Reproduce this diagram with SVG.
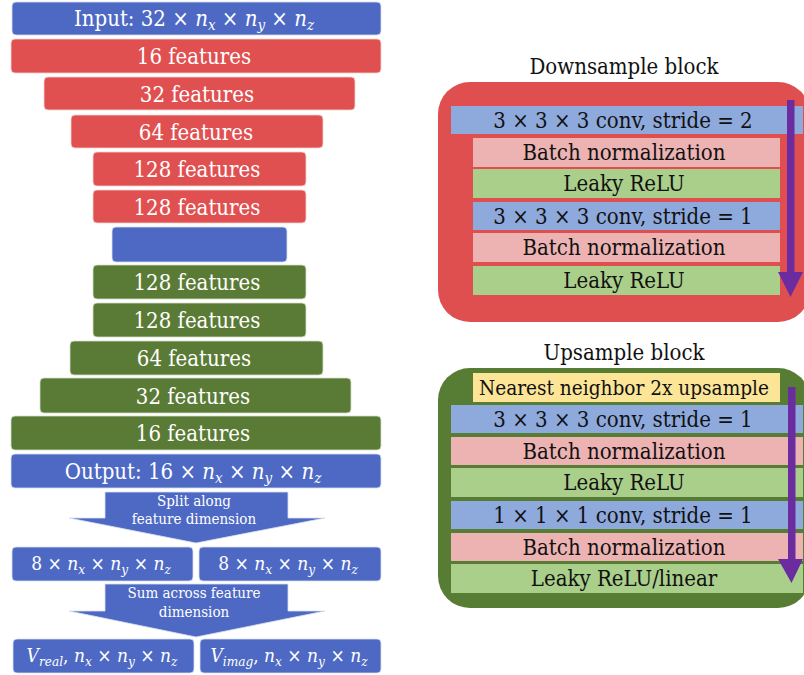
<svg xmlns="http://www.w3.org/2000/svg" width="804" height="675" viewBox="0 0 804 675">
  <style>
    .t { font-family: "DejaVu Serif Condensed", "DejaVu Serif", "Liberation Serif", serif; font-stretch: condensed; text-anchor: middle; }
    .w { fill: #ffffff; font-size: 22px; }
    .m { fill: #ffffff; font-size: 19px; }
    .k { fill: #111111; font-size: 22px; }
    .k.narrow { font-size: 20.6px; }
    .s { fill: #ffffff; font-size: 15px; }
    .i { font-style: italic; }
    .sub { font-style: italic; font-size: 15px; }
    .m .sub { font-size: 13.5px; }
    .blue { fill: #4d69c4; stroke: #d9e0f3; stroke-width: 0.8; }
    .red { fill: #e05050; stroke: #f7d3d3; stroke-width: 0.8; }
    .green { fill: #5a7b35; stroke: #d6e0cc; stroke-width: 0.8; }
    .rc { fill: #8ea9dc; }
    .rp { fill: #edb3b3; }
    .rg { fill: #aacf8b; }
    .ry { fill: #fde597; }
    .purple { fill: #6a2c9e; }
  </style>

  <!-- encoder / decoder stack -->
  <g id="input">
    <rect class="blue" x="12" y="2" width="369" height="33" rx="4"/>
    <text class="t w" x="194" y="26">Input: 32 × <tspan class="i">n</tspan><tspan class="sub" dy="4">x</tspan><tspan dy="-4"> × </tspan><tspan class="i">n</tspan><tspan class="sub" dy="4">y</tspan><tspan dy="-4"> × </tspan><tspan class="i">n</tspan><tspan class="sub" dy="4">z</tspan></text>
  </g>
  <g id="down16">
    <rect class="red" x="11" y="39" width="370" height="34" rx="4"/>
    <text class="t w" x="194" y="64">16 features</text>
  </g>
  <g id="down32">
    <rect class="red" x="44" y="77" width="311" height="33" rx="4"/>
    <text class="t w" x="197" y="101.5">32 features</text>
  </g>
  <g id="down64">
    <rect class="red" x="71" y="115" width="252" height="33" rx="4"/>
    <text class="t w" x="196" y="139.5">64 features</text>
  </g>
  <g id="down128a">
    <rect class="red" x="93" y="152" width="213" height="34" rx="4"/>
    <text class="t w" x="197" y="177">128 features</text>
  </g>
  <g id="down128b">
    <rect class="red" x="93" y="190" width="213" height="33" rx="4"/>
    <text class="t w" x="197" y="214.5">128 features</text>
  </g>
  <g id="bottleneck">
    <rect class="blue" x="112" y="227" width="175" height="35" rx="4"/>
  </g>
  <g id="up128a">
    <rect class="green" x="93" y="265" width="213" height="34" rx="4"/>
    <text class="t w" x="197" y="290">128 features</text>
  </g>
  <g id="up128b">
    <rect class="green" x="93" y="303" width="213" height="34" rx="4"/>
    <text class="t w" x="197" y="328">128 features</text>
  </g>
  <g id="up64">
    <rect class="green" x="70" y="341" width="253" height="34" rx="4"/>
    <text class="t w" x="194" y="366">64 features</text>
  </g>
  <g id="up32">
    <rect class="green" x="40" y="378" width="311" height="35" rx="4"/>
    <text class="t w" x="193" y="403.5">32 features</text>
  </g>
  <g id="up16">
    <rect class="green" x="11" y="416" width="370" height="34" rx="4"/>
    <text class="t w" x="193" y="441">16 features</text>
  </g>
  <g id="output">
    <rect class="blue" x="11" y="454" width="370" height="34" rx="4"/>
    <text class="t w" x="193" y="478.5">Output: 16 × <tspan class="i">n</tspan><tspan class="sub" dy="4">x</tspan><tspan dy="-4"> × </tspan><tspan class="i">n</tspan><tspan class="sub" dy="4">y</tspan><tspan dy="-4"> × </tspan><tspan class="i">n</tspan><tspan class="sub" dy="4">z</tspan></text>
  </g>

  <!-- block arrows between output stages -->
  <g id="connectors">
    <polygon class="blue" points="105,492 288,492 288,518 325,518 196,543 69,518 105,518"/>
    <text class="t s" x="194" y="506">Split along</text>
    <text class="t s" x="194" y="524">feature dimension</text>
    <polygon class="blue" points="105,584 288,584 288,611 325,611 196,637 69,611 105,611"/>
    <text class="t s" x="194" y="598">Sum across feature</text>
    <text class="t s" x="194" y="617">dimension</text>
  </g>

  <g id="split-left">
    <rect class="blue" x="12" y="547" width="181" height="34" rx="4"/>
    <text class="t m" x="101" y="570">8 × <tspan class="i">n</tspan><tspan class="sub" dy="4">x</tspan><tspan dy="-4"> × </tspan><tspan class="i">n</tspan><tspan class="sub" dy="4">y</tspan><tspan dy="-4"> × </tspan><tspan class="i">n</tspan><tspan class="sub" dy="4">z</tspan></text>
  </g>
  <g id="split-right">
    <rect class="blue" x="199" y="547" width="182" height="34" rx="4"/>
    <text class="t m" x="288" y="570">8 × <tspan class="i">n</tspan><tspan class="sub" dy="4">x</tspan><tspan dy="-4"> × </tspan><tspan class="i">n</tspan><tspan class="sub" dy="4">y</tspan><tspan dy="-4"> × </tspan><tspan class="i">n</tspan><tspan class="sub" dy="4">z</tspan></text>
  </g>
  <g id="v-real">
    <rect class="blue" x="13" y="639" width="181" height="34" rx="4"/>
    <text class="t m" x="102" y="662"><tspan class="i">V</tspan><tspan class="sub" dy="4">real</tspan><tspan dy="-4">, </tspan><tspan class="i">n</tspan><tspan class="sub" dy="4">x</tspan><tspan dy="-4"> × </tspan><tspan class="i">n</tspan><tspan class="sub" dy="4">y</tspan><tspan dy="-4"> × </tspan><tspan class="i">n</tspan><tspan class="sub" dy="4">z</tspan></text>
  </g>
  <g id="v-imag">
    <rect class="blue" x="200" y="639" width="181" height="34" rx="4"/>
    <text class="t m" x="289" y="662"><tspan class="i">V</tspan><tspan class="sub" dy="4">imag</tspan><tspan dy="-4">, </tspan><tspan class="i">n</tspan><tspan class="sub" dy="4">x</tspan><tspan dy="-4"> × </tspan><tspan class="i">n</tspan><tspan class="sub" dy="4">y</tspan><tspan dy="-4"> × </tspan><tspan class="i">n</tspan><tspan class="sub" dy="4">z</tspan></text>
  </g>

  <!-- downsample block detail -->
  <g id="downsample-block">
    <text class="t k" x="624" y="74">Downsample block</text>
    <rect x="438" y="82" width="372" height="240" rx="32" fill="#e04f4f"/>
    <rect class="rc" x="451" y="106" width="352" height="28"/>
    <text class="t k" x="623" y="128">3 × 3 × 3 conv, stride = 2</text>
    <rect class="rp" x="473" y="138" width="307" height="29"/>
    <text class="t k" x="624" y="160">Batch normalization</text>
    <rect class="rg" x="473" y="169" width="307" height="29"/>
    <text class="t k" x="624" y="191">Leaky ReLU</text>
    <rect class="rc" x="473" y="202" width="307" height="28"/>
    <text class="t k" x="623" y="224">3 × 3 × 3 conv, stride = 1</text>
    <rect class="rp" x="473" y="233" width="307" height="29"/>
    <text class="t k" x="624" y="255">Batch normalization</text>
    <rect class="rg" x="473" y="266" width="307" height="29"/>
    <text class="t k" x="624" y="288">Leaky ReLU</text>
    <polygon class="purple" points="787,100 794.5,100 794.5,272 803,272 790.5,297 778,272 787,272"/>
  </g>

  <!-- upsample block detail -->
  <g id="upsample-block">
    <text class="t k" x="624" y="360">Upsample block</text>
    <rect x="438" y="368" width="372" height="240" rx="32" fill="#567d33"/>
    <rect class="ry" x="473" y="373" width="307" height="29"/>
    <text class="t k narrow" x="624" y="394.5">Nearest neighbor 2x upsample</text>
    <rect class="rc" x="451" y="405" width="352" height="28"/>
    <text class="t k" x="623" y="427">3 × 3 × 3 conv, stride = 1</text>
    <rect class="rp" x="451" y="437" width="352" height="28"/>
    <text class="t k" x="624" y="459">Batch normalization</text>
    <rect class="rg" x="451" y="468" width="352" height="29"/>
    <text class="t k" x="624" y="490">Leaky ReLU</text>
    <rect class="rc" x="451" y="501" width="352" height="28"/>
    <text class="t k" x="623" y="523">1 × 1 × 1 conv, stride = 1</text>
    <rect class="rp" x="451" y="533" width="352" height="28"/>
    <text class="t k" x="624" y="555">Batch normalization</text>
    <rect class="rg" x="451" y="564" width="352" height="29"/>
    <text class="t k" x="624" y="586">Leaky ReLU/linear</text>
    <polygon class="purple" points="788,387 795.5,387 795.5,559 803,559 791.5,583 778,559 788,559"/>
  </g>
</svg>
